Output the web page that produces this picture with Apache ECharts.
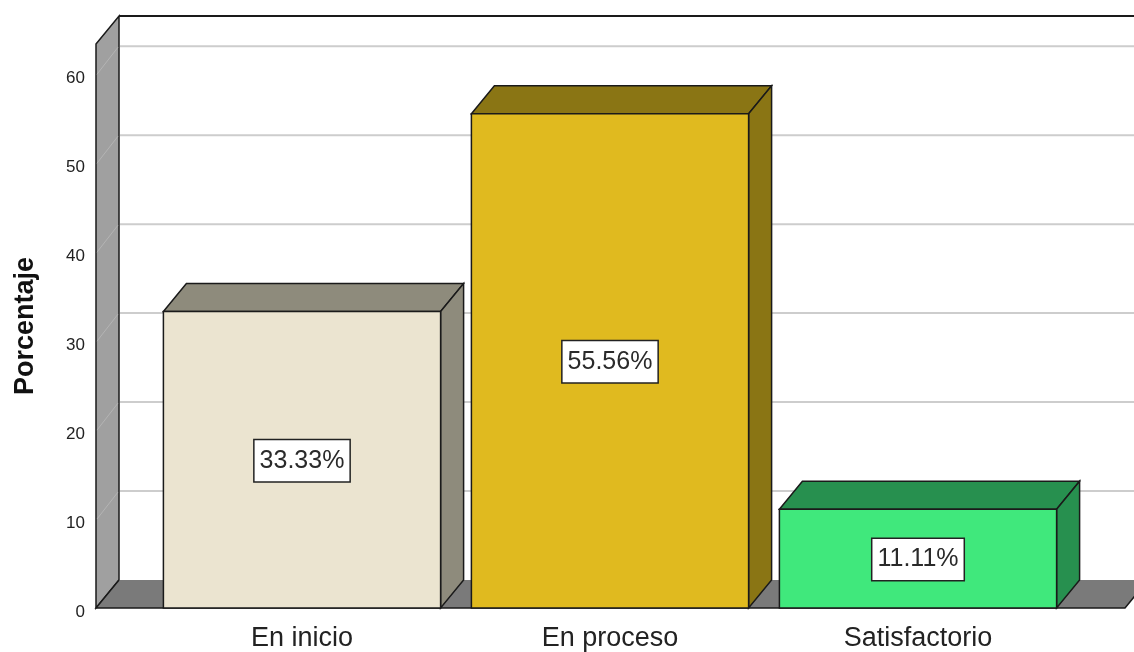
<!DOCTYPE html>
<html>
<head>
<meta charset="utf-8">
<script src="https://cdn.jsdelivr.net/npm/echarts@6/dist/echarts.min.js"></script>
<style>
  html, body { margin: 0; padding: 0; background: #fff; }
  #chart { width: 1134px; height: 652px; }
</style>
</head>
<body>
<div id="chart"></div>
<script>
// datos del grafico
var categories = ['En inicio', 'En proceso', 'Satisfactorio'];
var percentages = [33.33, 55.56, 11.11];
var yTicks = [0, 10, 20, 30, 40, 50, 60];
var yMax = 63.4;

// colores: cara frontal y caras de sombra (arriba / lado)
var frontColors = ['#ebe4d0', '#e0ba1f', '#40e87c'];
var shadeColors = ['#8e8b7c', '#8a7514', '#27904f'];

// profundidad del efecto 3D
var DX = 23;
var DY = 28;
var EDGE = '#1a1a1a';

var chart = echarts.init(document.getElementById('chart'));

// paredes, piso y lineas de cuadricula
var renderWalls = function (params, api) {
  var cs = params.coordSys;
  var y0 = api.coord([0, 0])[1];
  var yTop = api.coord([0, yMax])[1];
  var xL = cs.x - 52;
  var xR = cs.x + cs.width + 53;
  var far = 1200;
  var children = [];
  // pared lateral
  children.push({
    type: 'polygon',
    shape: { points: [[xL, yTop], [xL + DX, yTop - DY], [xL + DX, y0 - DY], [xL, y0]] },
    style: { fill: '#a0a0a0', stroke: EDGE, lineWidth: 1.5 }
  });
  // lineas de cuadricula
  for (var i = 1; i < yTicks.length; i++) {
    var y = api.coord([0, yTicks[i]])[1];
    children.push({
      type: 'line',
      shape: { x1: xL + DX + 1, y1: y - DY, x2: far, y2: y - DY },
      style: { stroke: '#cdcdcd', lineWidth: 2 }
    });
    children.push({
      type: 'line',
      shape: { x1: xL + 1, y1: y, x2: xL + DX - 1, y2: y - DY + 1 },
      style: { stroke: '#b4b4b4', lineWidth: 1 }
    });
  }
  // borde superior de la pared trasera
  children.push({
    type: 'line',
    shape: { x1: xL + DX, y1: yTop - DY, x2: far, y2: yTop - DY },
    style: { stroke: EDGE, lineWidth: 2 }
  });
  // piso
  children.push({
    type: 'polygon',
    shape: { points: [[xL, y0], [xL + DX, y0 - DY], [xR + DX, y0 - DY], [xR, y0]] },
    style: { fill: '#7a7a7a' }
  });
  children.push({
    type: 'polyline',
    shape: { points: [[xL + DX, y0 - DY], [xL, y0], [xR, y0], [xR + DX, y0 - DY]] },
    style: { stroke: EDGE, lineWidth: 1.5, fill: null }
  });
  return { type: 'group', children: children };
};

// barras 3D con etiqueta
var renderBar = function (params, api) {
  var idx = api.value(0);
  var val = api.value(1);
  var top = api.coord([idx, val]);
  var base = api.coord([idx, 0]);
  var w = api.size([1, 0])[0] * 0.9;
  var x1 = top[0] - w / 2;
  var x2 = top[0] + w / 2;
  var yt = top[1];
  var yb = base[1];
  var stroke = { stroke: EDGE, lineWidth: 1.5 };
  return {
    type: 'group',
    children: [
      {
        type: 'polygon',
        shape: { points: [[x1, yt], [x1 + DX, yt - DY], [x2 + DX, yt - DY], [x2, yt]] },
        style: Object.assign({ fill: shadeColors[idx] }, stroke)
      },
      {
        type: 'polygon',
        shape: { points: [[x2, yt], [x2 + DX, yt - DY], [x2 + DX, yb - DY], [x2, yb]] },
        style: Object.assign({ fill: shadeColors[idx] }, stroke)
      },
      {
        type: 'rect',
        shape: { x: x1, y: yt, width: w, height: yb - yt },
        style: Object.assign({ fill: frontColors[idx] }, stroke)
      },
      {
        type: 'text',
        style: {
          x: top[0],
          y: (yt + yb) / 2 + 1,
          text: val.toFixed(2) + '%',
          align: 'center',
          verticalAlign: 'middle',
          fontFamily: 'Liberation Sans, Arial, sans-serif',
          fontSize: 25,
          fill: '#2a2a2a',
          backgroundColor: '#fff',
          borderColor: '#222',
          borderWidth: 1.5,
          padding: [9, 5, 7, 5]
        }
      }
    ]
  };
};

var option = {
  animation: false,
  backgroundColor: '#fff',
  grid: { left: 148, right: 62, top: 44, bottom: 44 },
  xAxis: {
    type: 'category',
    data: categories,
    axisLine: { show: false },
    axisTick: { show: false },
    axisLabel: {
      margin: 17,
      fontSize: 27,
      color: '#222',
      fontFamily: 'Liberation Sans, Arial, sans-serif'
    }
  },
  yAxis: {
    type: 'value',
    min: 0,
    max: yMax,
    interval: 10,
    name: 'Porcentaje',
    nameLocation: 'middle',
    nameRotate: 90,
    nameGap: 109,
    nameTextStyle: {
      fontSize: 27,
      fontWeight: 'bold',
      color: '#111',
      fontFamily: 'Liberation Sans, Arial, sans-serif'
    },
    axisLine: { show: false },
    axisTick: { show: false },
    splitLine: { show: false },
    axisLabel: {
      margin: 63,
      fontSize: 17,
      color: '#222',
      verticalAlign: 'top',
      lineHeight: 8,
      fontFamily: 'Liberation Sans, Arial, sans-serif',
      showMaxLabel: false,
      formatter: function (v) {
        return yTicks.indexOf(v) >= 0 ? v : '';
      }
    }
  },
  series: [
    {
      type: 'custom',
      name: 'walls',
      clip: false,
      silent: true,
      z: 1,
      renderItem: renderWalls,
      data: [[0, 0]]
    },
    {
      type: 'custom',
      name: 'Porcentaje',
      clip: false,
      z: 2,
      renderItem: renderBar,
      encode: { x: 0, y: 1 },
      data: percentages.map(function (v, i) { return [i, v]; })
    }
  ]
};
chart.setOption(option);
</script>
</body>
</html>
